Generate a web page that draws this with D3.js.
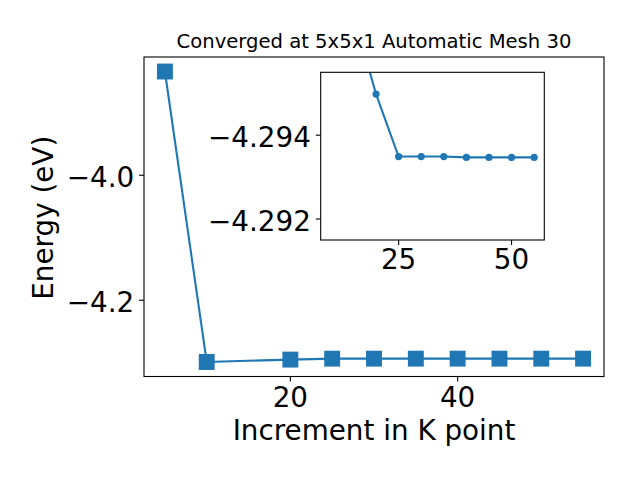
<!DOCTYPE html>
<html>
<head>
<meta charset="utf-8">
<script src="https://cdn.jsdelivr.net/npm/d3@7/dist/d3.min.js"></script>
<style>
  html, body { margin: 0; padding: 0; background: #fff; }
  svg { display: block; font-family: "DejaVu Sans", sans-serif; }
</style>
</head>
<body>
<svg id="chart" width="640" height="480"></svg>
<script>
// ---- data ----
const kPoints = [5, 10, 20, 25, 30, 35, 40, 45, 50, 55];
const energies = [-3.834, -4.2988, -4.29498, -4.29349, -4.29349, -4.29349, -4.29347, -4.29347, -4.29347, -4.29347];
const insetKPoints = [10, 20, 25, 30, 35, 40, 45, 50, 55];
const insetEnergies = [-4.2988, -4.29498, -4.29349, -4.29349, -4.29349, -4.29347, -4.29347, -4.29347, -4.29347];
const mainXTicks = [20, 40];
const mainYTicks = [-4.0, -4.2];
const insetXTicks = [25, 50];
const insetYTicks = [-4.294, -4.292];
const insetYLim = [-4.2955, -4.2915]; // inverted axis: first value at top
const titleText = "Converged at 5x5x1 Automatic Mesh 30";
const xLabel = "Increment in K point";
const yLabel = "Energy (eV)";

const color = "#1f77b4";
const svg = d3.select("#chart");

// ---- main axes ----
const M = { left: 144, right: 604, top: 57, bottom: 376.5 };
const xExt = d3.extent(kPoints), yExt = d3.extent(energies);
const xPad = (xExt[1] - xExt[0]) * 0.05, yPad = (yExt[1] - yExt[0]) * 0.05;
const x = d3.scaleLinear().domain([xExt[0] - xPad, xExt[1] + xPad]).range([M.left, M.right]);
const y = d3.scaleLinear().domain([yExt[0] - yPad, yExt[1] + yPad]).range([M.bottom, M.top]);

const data = kPoints.map((k, i) => ({ k, e: energies[i] }));

const line = d3.line().x(d => x(d.k)).y(d => y(d.e));
svg.append("path").datum(data).attr("d", line)
  .attr("fill", "none").attr("stroke", color).attr("stroke-width", 2.1)
  .attr("stroke-linejoin", "round");
const ms = 14.5;
svg.append("g").selectAll("rect").data(data).join("rect")
  .attr("x", d => x(d.k) - ms / 2).attr("y", d => y(d.e) - ms / 2)
  .attr("width", ms).attr("height", ms)
  .attr("fill", color).attr("stroke", color).attr("stroke-width", 1.4);

svg.append("rect").attr("x", M.left).attr("y", M.top)
  .attr("width", M.right - M.left).attr("height", M.bottom - M.top)
  .attr("fill", "none").attr("stroke", "#000").attr("stroke-width", 1.1);

// main ticks
const tickLen = 4.9;
const fsTick = 27.8;
const gx = svg.append("g");
mainXTicks.forEach(t => {
  gx.append("line").attr("x1", x(t)).attr("x2", x(t)).attr("y1", M.bottom).attr("y2", M.bottom + tickLen)
    .attr("stroke", "#000").attr("stroke-width", 1.1);
  gx.append("text").attr("x", x(t)).attr("y", M.bottom + 30).attr("text-anchor", "middle")
    .attr("font-size", fsTick).text(d3.format("d")(t));
});
const gy = svg.append("g");
mainYTicks.forEach(t => {
  gy.append("line").attr("x1", M.left - tickLen).attr("x2", M.left).attr("y1", y(t)).attr("y2", y(t))
    .attr("stroke", "#000").attr("stroke-width", 1.1);
  gy.append("text").attr("x", M.left - 9.8).attr("y", y(t) + 11.7).attr("text-anchor", "end")
    .attr("font-size", fsTick).text(d3.format(".1f")(t).replace("-", "\u2212"));
});

// labels
svg.append("text").attr("x", (M.left + M.right) / 2).attr("y", 48.3).attr("text-anchor", "middle")
  .attr("font-size", 19.6).text(titleText);
svg.append("text").attr("x", (M.left + M.right) / 2).attr("y", 439.5).attr("text-anchor", "middle")
  .attr("font-size", 27.8).text(xLabel);
svg.append("text").attr("transform", `translate(53,${(M.top + M.bottom) / 2 + 1}) rotate(-90)`)
  .attr("text-anchor", "middle").attr("font-size", 27.8).text(yLabel);

// ---- inset axes ----
const I = { left: 320.7, right: 544.3, top: 72.3, bottom: 240 };
const ixExt = d3.extent(insetKPoints);
const ixPad = (ixExt[1] - ixExt[0]) * 0.05;
const xi = d3.scaleLinear().domain([ixExt[0] - ixPad, ixExt[1] + ixPad]).range([I.left, I.right]);
const yi = d3.scaleLinear().domain(insetYLim).range([I.top, I.bottom]);
const idata = insetKPoints.map((k, i) => ({ k, e: insetEnergies[i] }));

svg.append("rect").attr("x", I.left).attr("y", I.top)
  .attr("width", I.right - I.left).attr("height", I.bottom - I.top)
  .attr("fill", "#fff").attr("stroke", "none");
svg.append("clipPath").attr("id", "insetClip").append("rect")
  .attr("x", I.left).attr("y", I.top).attr("width", I.right - I.left).attr("height", I.bottom - I.top);
const gi = svg.append("g").attr("clip-path", "url(#insetClip)");
const lineI = d3.line().x(d => xi(d.k)).y(d => yi(d.e));
gi.append("path").datum(idata).attr("d", lineI)
  .attr("fill", "none").attr("stroke", color).attr("stroke-width", 2.1).attr("stroke-linejoin", "round");
gi.selectAll("circle").data(idata).join("circle")
  .attr("cx", d => xi(d.k)).attr("cy", d => yi(d.e)).attr("r", 3.6).attr("fill", color);

svg.append("rect").attr("x", I.left).attr("y", I.top)
  .attr("width", I.right - I.left).attr("height", I.bottom - I.top)
  .attr("fill", "none").attr("stroke", "#000").attr("stroke-width", 1.1);

insetXTicks.forEach(t => {
  svg.append("line").attr("x1", xi(t)).attr("x2", xi(t)).attr("y1", I.bottom).attr("y2", I.bottom + tickLen)
    .attr("stroke", "#000").attr("stroke-width", 1.1);
  svg.append("text").attr("x", xi(t)).attr("y", I.bottom + 29.3).attr("text-anchor", "middle")
    .attr("font-size", fsTick).text(d3.format("d")(t));
});
insetYTicks.forEach(t => {
  svg.append("line").attr("x1", I.left - tickLen).attr("x2", I.left).attr("y1", yi(t)).attr("y2", yi(t))
    .attr("stroke", "#000").attr("stroke-width", 1.1);
  svg.append("text").attr("x", I.left - 9.8).attr("y", yi(t) + 11.7).attr("text-anchor", "end")
    .attr("font-size", fsTick).text(d3.format(".3f")(t).replace("-", "\u2212"));
});
</script>
</body>
</html>
